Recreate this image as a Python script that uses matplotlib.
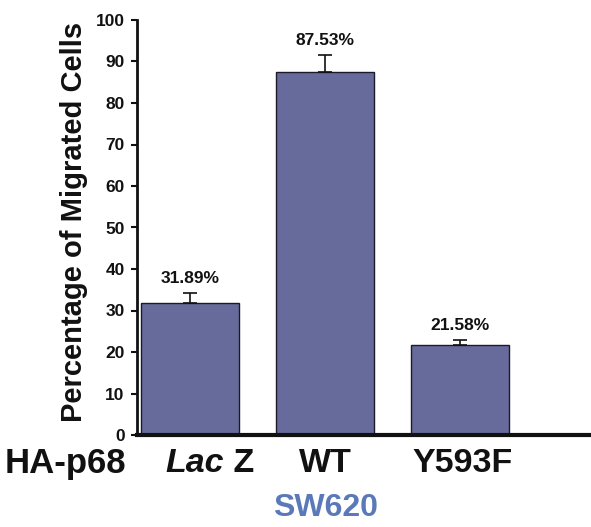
import matplotlib
matplotlib.use("Agg")
import matplotlib.pyplot as plt
import matplotlib.transforms as mtransforms

categories = ["Lac Z", "WT", "Y593F"]
values = [31.89, 87.53, 21.58]
errors = [2.4, 4.0, 1.4]
value_labels = ["31.89%", "87.53%", "21.58%"]
yticks = [0, 10, 20, 30, 40, 50, 60, 70, 80, 90, 100]

plt.rcParams['font.family'] = ['Liberation Sans', 'DejaVu Sans']
plt.rcParams['font.weight'] = 'bold'

fig = plt.figure(figsize=(5.91, 5.27), dpi=100)
ax = fig.add_axes([137/591, 1-435/527, 1-137/591, 415/527])

x = list(range(len(categories)))
ax.bar(x, values, width=0.72, color='#676b9c', edgecolor='#1a1a2a', linewidth=1.0, zorder=2)
ax.errorbar(x, values, yerr=[[0]*3, errors], fmt='none', ecolor='#111111',
            elinewidth=1.2, capsize=5, capthick=1.2, zorder=3)

for xi, v, e, lab in zip(x, values, errors, value_labels):
    ax.annotate(lab, (xi, v + e), xytext=(0, 5), textcoords='offset points',
                ha='center', va='bottom', fontsize=12.5, fontweight='bold', color='#111111')

ax.set_xlim(-0.393, 2.97)
ax.set_ylim(0, 100)
ax.set_yticks(yticks)
ax.set_yticklabels([str(t) for t in yticks], fontsize=12.5, fontweight='bold')
ax.tick_params(axis='y', direction='out', length=4, width=1.5, pad=5, colors='#111111')
ax.set_xticks([])
for s in ['top', 'right']:
    ax.spines[s].set_visible(False)
ax.spines['left'].set_linewidth(2.0)
ax.spines['bottom'].set_linewidth(3.0)
ax.spines['left'].set_color('#111111')
ax.spines['bottom'].set_color('#111111')

fig.text(74/591, 1-222/527, "Percentage of Migrated Cells", rotation=90,
         ha='center', va='center', fontsize=21, fontweight='bold', color='#111111')

# x labels
trans = mtransforms.blended_transform_factory(ax.transData, fig.transFigure)
ylab = 1 - 463/527
ax.text(1, ylab, "WT", transform=trans, ha='center', va='center', fontsize=24.5, fontweight='bold', color='#111111')
ax.text(2.02, ylab, "Y593F", transform=trans, ha='center', va='center', fontsize=24.5, fontweight='bold', color='#111111')
ax.text(0.25, ylab, "Lac", transform=trans, ha='right', va='center', fontsize=24.5, fontweight='bold',
        style='italic', color='#111111')
ax.text(0.25, ylab, " Z", transform=trans, ha='left', va='center', fontsize=24.5, fontweight='bold', color='#111111')
fig.text(5/591, ylab, "HA-p68", ha='left', va='center', fontsize=25, fontweight='bold', color='#111111')
ax.text(1, 1 - 508/527, "SW620", transform=trans, ha='center', va='center', fontsize=23,
        fontweight='bold', color='#5b79b9')

fig.savefig("out.png", dpi=100)
